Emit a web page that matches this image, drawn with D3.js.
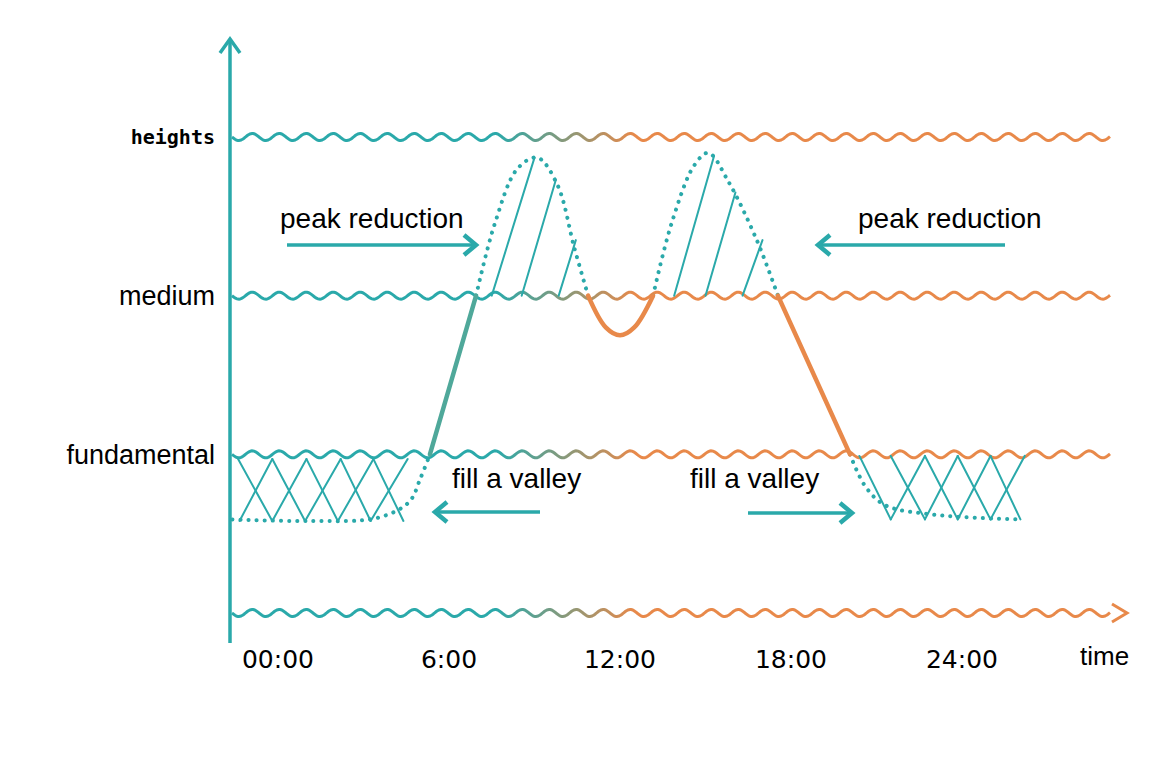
<!DOCTYPE html>
<html><head><meta charset="utf-8">
<script src="https://cdn.jsdelivr.net/npm/d3@7"></script>
<style>body{margin:0;background:#fff}text{font-family:"Liberation Sans",Arial,sans-serif}</style>
</head><body><svg id="chart" width="1175" height="773"></svg>
<script>
const teal = "#2aa9aa", orange = "#e8894a";
const levels = ["", "fundamental", "medium", "heights"];
const ticks = [0, 6, 12, 18, 24];
const tickLabels = ["00:00", "6:00", "12:00", "18:00", "24:00"];

// load curve pieces: [hour, level]
const valleyLeft = [[-1.6, 0.59], [1, 0.58], [3.5, 0.6], [4.6, 0.7], [5.0, 0.85], [5.33, 1]];
const rampUp = [[5.33, 1], [6.95, 2]];
const peak1 = [[6.95, 2], [7.6, 2.45], [8.4, 2.8], [9.1, 2.87], [9.8, 2.7], [10.4, 2.3], [10.88, 2]];
const dip = [[10.88, 2], [11.5, 1.8], [12, 1.75], [12.5, 1.8], [13.16, 2]];
const peak2 = [[13.16, 2], [13.8, 2.45], [14.6, 2.82], [15.1, 2.9], [15.8, 2.72], [16.8, 2.35], [17.54, 2]];
const rampDown = [[17.54, 2], [20.07, 1]];
const valleyRight = [[20.07, 1], [20.6, 0.8], [21.3, 0.68], [23, 0.62], [26, 0.59]];
const hatch1 = [[[7.5, 2], [9.0, 2.87]], [[8.55, 2], [9.75, 2.73]], [[9.85, 2], [10.45, 2.35]]];
const hatch2 = [[[13.9, 2], [15.3, 2.88]], [[15.0, 2], [16.05, 2.65]], [[16.3, 2], [17.0, 2.35]]];
const crossLeftTop = [-1.4, -0.2, 1.0, 2.2, 3.35, 4.55];
const crossLeftBot = [-1.35, -0.2, 0.95, 2.1, 3.25, 4.4];
const crossRightTop = [20.4, 21.5, 22.7, 23.85, 25.0, 26.2];
const crossRightBot = [21.5, 22.7, 23.85, 25.0, 26.05];

const svg = d3.select("#chart");
const x = d3.scaleLinear().domain([0, 24]).range([278, 962]);
const y = d3.scaleLinear().domain([0, 3]).range([613, 137]);

const defs = svg.append("defs");
const grad = defs.append("linearGradient").attr("id", "g").attr("gradientUnits", "userSpaceOnUse")
    .attr("x1", 232).attr("x2", 1110).attr("y1", 0).attr("y2", 0);
grad.append("stop").attr("offset", "0.3").attr("stop-color", teal);
grad.append("stop").attr("offset", "0.46").attr("stop-color", orange);

// wavy level lines
[0, 1, 2, 3].forEach(function (lv) {
    let pts = [];
    for (let px = 232; px <= 1110; px += 1) {
        pts.push([px, y(lv) + 3.5 * Math.sin((px - 232) / 27 * 2 * Math.PI)]);
    }
    svg.append("path").attr("d", d3.line()(pts)).attr("fill", "none")
        .attr("stroke", "url(#g)").attr("stroke-width", 3);
});
// time arrow
svg.append("path").attr("d", "M1112,604 L1127,613 L1112,622").attr("fill", "none")
    .attr("stroke", orange).attr("stroke-width", 3);

// vertical axis
svg.append("line").attr("x1", 230).attr("x2", 230).attr("y1", 40).attr("y2", 643)
    .attr("stroke", teal).attr("stroke-width", 3.5);
svg.append("path").attr("d", "M220,53 L230,39 L240,53").attr("fill", "none")
    .attr("stroke", teal).attr("stroke-width", 3.5);

const line = d3.line().x(d => x(d[0])).y(d => y(d[1])).curve(d3.curveCatmullRom);
function draw(data, color, w, dash) {
    svg.append("path").attr("d", line(data)).attr("fill", "none").attr("stroke", color)
        .attr("stroke-width", w).attr("stroke-linecap", "round")
        .attr("stroke-dasharray", dash || null);
}
const dots = "0.1 8";
draw(valleyLeft, teal, 4, dots);
draw(peak1, teal, 4, dots);
draw(peak2, teal, 4, dots);
draw(valleyRight, teal, 4, dots);
draw(rampUp, "#4fa89a", 4.5);
draw(dip, orange, 4.5);
draw(rampDown, orange, 4.5);
hatch1.concat(hatch2).forEach(s => draw(s, teal, 2));

// cross hatching in valleys
function cross(tops, bots, topLv, botLv) {
    tops.forEach(function (t) {
        bots.forEach(function (b) {
            if (Math.abs(b - t) > 0.5 && Math.abs(b - t) < 1.5) draw([[t, topLv], [b, botLv]], teal, 2);
        });
    });
}
cross(crossLeftTop, crossLeftBot, 0.97, 0.58);
cross(crossRightTop, crossRightBot, 0.99, 0.59);

// level labels
levels.forEach(function (name, i) {
    if (!name) return;
    svg.append("text").attr("x", 215).attr("y", y(i)).attr("dy", "0.35em")
        .attr("text-anchor", "end")
        .style("font-size", i === 3 ? "20px" : "27px")
        .style("font-weight", i === 3 ? "bold" : "normal")
        .style("font-family", i === 3 ? "DejaVu Sans Mono" : null)
        .text(name);
});
ticks.forEach(function (t, i) {
    svg.append("text").attr("x", x(t)).attr("y", 668).attr("text-anchor", "middle")
        .style("font-size", "25px").style("font-family", "DejaVu Sans").text(tickLabels[i]);
});
svg.append("text").attr("x", 1080).attr("y", 665).style("font-size", "26px").text("time");

// annotations
function label(txt, tx, ty) {
    svg.append("text").attr("x", tx).attr("y", ty).style("font-size", "28px").text(txt);
}
function arrow(x1, x2, ay) {
    const d = x2 > x1 ? -1 : 1;
    svg.append("line").attr("x1", x1).attr("x2", x2).attr("y1", ay).attr("y2", ay)
        .attr("stroke", teal).attr("stroke-width", 3.5);
    svg.append("path").attr("d", `M${x2 + d * 12},${ay - 10} L${x2},${ay} L${x2 + d * 12},${ay + 10}`)
        .attr("fill", "none").attr("stroke", teal).attr("stroke-width", 4.5);
}
label("peak reduction", 280, 228); arrow(287, 476, 245);
label("peak reduction", 858, 228); arrow(1005, 818, 245);
label("fill a valley", 452, 488); arrow(540, 435, 512);
label("fill a valley", 690, 488); arrow(748, 852, 513);
</script></body></html>
